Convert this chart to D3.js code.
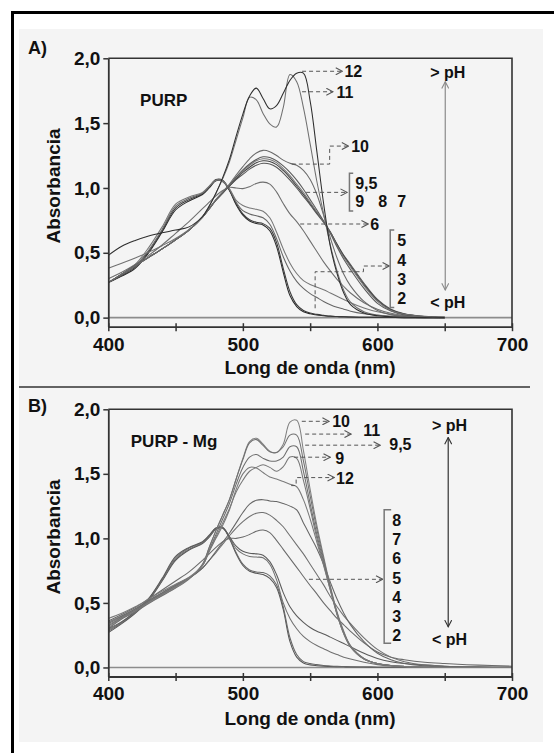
<!DOCTYPE html>
<html><head><meta charset="utf-8">
<script src="https://cdn.jsdelivr.net/npm/d3@7"></script>
<style>
body{margin:0;background:#fff}
svg{display:block}
text{font-family:"Liberation Sans",Arial,sans-serif;font-weight:bold;fill:#111}
</style></head>
<body><svg id="c" width="554" height="753"></svg>
<script>
// ---------- DATA ----------
const wavelengthsA = [400,410,420,430,440,450,460,470,475,480,485,490,495,500,505,510,515,520,525,530,535,540,545,550,555,560,565,570,575,580,590,600,610,620,635,650];
const wavelengthsB = [400,410,420,430,440,450,460,470,475,480,485,490,495,500,505,510,515,520,525,530,535,540,545,550,555,560,565,570,575,580,590,600,610,620,635,650,675,700];
const phLabels = ["2","3","4","5","6","7","8","9","9,5","10","11","12"];

// Panel A: PURP
const purp_pH2  = [0.27,0.32,0.38,0.50,0.66,0.83,0.90,0.95,1.00,1.055,1.05,0.98,0.87,0.79,0.745,0.725,0.715,0.67,0.55,0.35,0.17,0.085,0.045,0.03,0.02,0.015,0.01,0.008,0.006,0.005,0.003,0.002,0.001,0,0,0];
const purp_pH3  = [0.27,0.325,0.39,0.51,0.67,0.845,0.91,0.955,1.01,1.065,1.06,0.985,0.88,0.80,0.755,0.735,0.725,0.69,0.58,0.38,0.20,0.10,0.055,0.035,0.025,0.018,0.012,0.009,0.007,0.005,0.003,0.002,0.001,0,0,0];
const purp_pH4  = [0.27,0.33,0.40,0.52,0.68,0.86,0.92,0.96,1.01,1.06,1.055,0.99,0.89,0.825,0.80,0.785,0.77,0.72,0.61,0.47,0.36,0.28,0.225,0.185,0.155,0.125,0.10,0.08,0.065,0.05,0.03,0.018,0.01,0.005,0.002,0];
const purp_pH5  = [0.27,0.335,0.41,0.54,0.70,0.875,0.93,0.965,1.015,1.06,1.05,0.995,0.905,0.865,0.845,0.835,0.82,0.77,0.66,0.53,0.42,0.34,0.285,0.255,0.235,0.215,0.19,0.165,0.14,0.115,0.075,0.045,0.025,0.012,0.004,0];
const purp_pH6  = [0.30,0.35,0.41,0.48,0.56,0.65,0.74,0.84,0.89,0.94,0.98,1.005,1.0,0.995,1.01,1.035,1.045,1.03,0.97,0.88,0.80,0.74,0.67,0.59,0.51,0.43,0.36,0.295,0.24,0.19,0.115,0.065,0.033,0.015,0.005,0];
const purp_pH7  = [0.27,0.335,0.40,0.465,0.53,0.60,0.675,0.775,0.84,0.91,0.965,1.015,1.065,1.105,1.145,1.175,1.19,1.185,1.16,1.115,1.06,1.0,0.935,0.87,0.80,0.735,0.66,0.565,0.48,0.41,0.265,0.14,0.065,0.03,0.01,0.003];
const purp_pH8  = [0.27,0.335,0.40,0.465,0.53,0.60,0.675,0.775,0.84,0.905,0.96,1.015,1.07,1.12,1.16,1.195,1.21,1.205,1.18,1.135,1.08,1.015,0.95,0.88,0.81,0.74,0.66,0.565,0.475,0.40,0.255,0.135,0.06,0.028,0.009,0.003];
const purp_pH9  = [0.27,0.335,0.40,0.465,0.53,0.60,0.675,0.775,0.84,0.905,0.96,1.02,1.08,1.13,1.175,1.21,1.225,1.22,1.195,1.15,1.095,1.03,0.965,0.89,0.815,0.74,0.655,0.555,0.465,0.39,0.245,0.125,0.055,0.025,0.008,0.002];
const purp_pH95 = [0.27,0.335,0.40,0.465,0.53,0.60,0.675,0.775,0.84,0.905,0.96,1.02,1.085,1.14,1.185,1.22,1.24,1.235,1.21,1.17,1.12,1.06,0.99,0.91,0.83,0.745,0.65,0.545,0.45,0.37,0.225,0.11,0.05,0.02,0.007,0.002];
const purp_pH10 = [0.27,0.335,0.40,0.465,0.53,0.60,0.675,0.775,0.84,0.91,0.97,1.03,1.10,1.165,1.225,1.27,1.29,1.28,1.25,1.215,1.19,1.175,1.135,1.065,0.95,0.79,0.615,0.46,0.335,0.245,0.125,0.055,0.022,0.009,0.003,0];
const purp_pH11 = [0.38,0.42,0.46,0.505,0.555,0.61,0.68,0.78,0.86,0.96,1.07,1.20,1.37,1.54,1.70,1.68,1.575,1.495,1.47,1.62,1.875,1.82,1.62,1.34,1.05,0.80,0.56,0.36,0.21,0.12,0.045,0.02,0.01,0.005,0.002,0];
const purp_pH12 = [0.48,0.55,0.595,0.63,0.655,0.675,0.70,0.78,0.86,0.96,1.08,1.22,1.40,1.57,1.71,1.77,1.69,1.61,1.635,1.73,1.83,1.885,1.885,1.67,1.28,0.88,0.55,0.34,0.19,0.10,0.035,0.015,0.007,0.003,0,0];

// Panel B: PURP - Mg
const mg_pH2  = [0.27,0.34,0.42,0.52,0.67,0.83,0.91,0.96,1.01,1.07,1.08,1.00,0.88,0.79,0.745,0.73,0.72,0.69,0.62,0.45,0.20,0.08,0.035,0.02,0.014,0.01,0.008,0.006,0.005,0.004,0.003,0.002,0.001,0,0,0,0,0];
const mg_pH3  = [0.28,0.345,0.425,0.525,0.675,0.84,0.915,0.965,1.015,1.075,1.085,1.005,0.89,0.80,0.755,0.74,0.735,0.71,0.64,0.47,0.23,0.10,0.045,0.03,0.022,0.016,0.012,0.009,0.007,0.005,0.003,0.002,0.001,0,0,0,0,0];
const mg_pH4  = [0.29,0.35,0.43,0.53,0.68,0.85,0.925,0.97,1.02,1.08,1.085,1.01,0.92,0.88,0.86,0.855,0.85,0.80,0.68,0.50,0.38,0.30,0.24,0.20,0.17,0.145,0.12,0.10,0.08,0.065,0.04,0.022,0.012,0.006,0.002,0,0,0];
const mg_pH5  = [0.30,0.355,0.435,0.535,0.69,0.86,0.93,0.975,1.025,1.08,1.08,1.015,0.94,0.90,0.885,0.88,0.87,0.82,0.72,0.58,0.47,0.40,0.35,0.31,0.28,0.26,0.235,0.21,0.185,0.16,0.11,0.07,0.045,0.03,0.018,0.01,0.005,0.003];
const mg_pH6  = [0.36,0.41,0.465,0.53,0.60,0.67,0.74,0.83,0.88,0.93,0.975,1.0,1.0,1.01,1.03,1.055,1.065,1.045,0.985,0.915,0.845,0.775,0.705,0.635,0.57,0.50,0.44,0.38,0.33,0.28,0.19,0.12,0.08,0.06,0.04,0.03,0.018,0.01];
const mg_pH7  = [0.35,0.40,0.455,0.52,0.58,0.64,0.695,0.77,0.83,0.89,0.955,1.02,1.08,1.13,1.17,1.195,1.20,1.18,1.14,1.09,1.02,0.95,0.88,0.80,0.72,0.64,0.55,0.47,0.40,0.34,0.23,0.14,0.08,0.045,0.02,0.01,0.003,0];
const mg_pH8  = [0.34,0.395,0.45,0.515,0.575,0.635,0.69,0.77,0.83,0.90,0.97,1.04,1.12,1.20,1.265,1.295,1.30,1.29,1.285,1.27,1.25,1.22,1.12,1.02,0.92,0.80,0.66,0.53,0.42,0.33,0.20,0.11,0.06,0.03,0.012,0.005,0,0];
const mg_pH9  = [0.33,0.39,0.445,0.51,0.57,0.63,0.69,0.79,0.90,1.01,1.12,1.23,1.36,1.45,1.52,1.55,1.57,1.55,1.52,1.555,1.63,1.62,1.45,1.23,1.00,0.80,0.60,0.41,0.26,0.16,0.065,0.03,0.015,0.007,0.002,0,0,0];
const mg_pH95 = [0.32,0.385,0.44,0.505,0.565,0.625,0.69,0.79,0.91,1.03,1.15,1.27,1.42,1.55,1.63,1.65,1.62,1.60,1.60,1.63,1.71,1.71,1.52,1.27,1.03,0.82,0.61,0.42,0.27,0.165,0.068,0.03,0.015,0.007,0.002,0,0,0];
const mg_pH10 = [0.31,0.38,0.435,0.50,0.56,0.62,0.69,0.80,0.93,1.06,1.18,1.30,1.46,1.62,1.75,1.775,1.73,1.675,1.665,1.73,1.90,1.915,1.68,1.38,1.10,0.86,0.63,0.43,0.28,0.17,0.07,0.03,0.015,0.008,0.003,0,0,0];
const mg_pH11 = [0.30,0.375,0.43,0.495,0.555,0.615,0.685,0.80,0.93,1.06,1.18,1.30,1.46,1.61,1.74,1.765,1.72,1.67,1.665,1.71,1.80,1.80,1.60,1.33,1.07,0.84,0.62,0.42,0.27,0.165,0.068,0.03,0.015,0.008,0.003,0,0,0];
const mg_pH12 = [0.38,0.42,0.47,0.53,0.59,0.645,0.70,0.79,0.90,1.00,1.10,1.22,1.38,1.50,1.55,1.545,1.51,1.475,1.46,1.44,1.42,1.40,1.30,1.15,0.97,0.79,0.60,0.41,0.26,0.16,0.065,0.03,0.015,0.007,0.002,0,0,0];

const xTickValues = [400,450,500,550,600,650,700];
const xLabelValues = [400,500,600,700];
const yTickValues = [0,0.5,1,1.5,2];

// annotations in data units [wavelength, absorbance]
const annotA = {
  title: {text:"PURP", at:[423.6,1.683]},
  arrows: [
    [[544,1.90],[574,1.90]],
    [[544,1.742],[567,1.742]],
    [[536.4,1.184],[564.5,1.184],[564.5,1.323],[578.5,1.323]],
    [[547,0.966],[577.5,0.966]],
    [[542.6,0.722],[593.1,0.722]],
    [[553.7,0.072],[553.7,0.354],[589.6,0.354],[589.6,0.398],[608.8,0.398]]
  ],
  labels: [
    {t:"12",at:[575.5,1.90]},{t:"11",at:[569.5,1.742]},{t:"10",at:[580.5,1.323]},
    {t:"9,5",at:[583.5,1.035]},{t:"9",at:[583.5,0.894]},{t:"8",at:[600.6,0.894]},{t:"7",at:[614.7,0.894]},
    {t:"6",at:[594.6,0.722]},
    {t:"5",at:[614.7,0.593]},{t:"4",at:[614.7,0.444]},{t:"3",at:[614.7,0.295]},{t:"2",at:[614.7,0.149]}
  ],
  brackets: [
    [[582,1.113],[579.2,1.113],[579.2,0.822],[582,0.822]],
    [[612.5,0.675],[609.5,0.675],[609.5,0.079],[612.5,0.079]]
  ],
  phTop:{t:"> pH",at:[639.2,1.896]}, phBot:{t:"< pH",at:[639.2,0.118]},
  phArrow:[[650.4,1.819],[650.4,0.213]], phColor:"#8a8a8a"
};
const annotB = {
  title: {text:"PURP - Mg", at:[416.7,1.757]},
  arrows: [
    [[543.8,1.907],[564.1,1.907]],
    [[546.3,1.808],[580.5,1.808]],
    [[546.3,1.722],[602.1,1.722]],
    [[538.1,1.629],[564.9,1.629]],
    [[535.9,1.409],[539.6,1.409],[539.6,1.471],[567.9,1.471]],
    [[549.1,0.683],[603.9,0.683]]
  ],
  labels: [
    {t:"10",at:[566.4,1.906]},{t:"11",at:[589.4,1.835]},{t:"9,5",at:[608.8,1.731]},
    {t:"9",at:[568.6,1.623]},{t:"12",at:[569.3,1.466]},
    {t:"8",at:[611,1.139]},{t:"7",at:[611,0.990]},{t:"6",at:[611,0.843]},{t:"5",at:[611,0.693]},
    {t:"4",at:[611,0.547]},{t:"3",at:[611,0.398]},{t:"2",at:[611,0.251]}
  ],
  brackets: [
    [[610.2,1.222],[605,1.222],[605,0.187],[610.2,0.187]]
  ],
  phTop:{t:"> pH",at:[640.5,1.873]}, phBot:{t:"< pH",at:[640.5,0.218]},
  phArrow:[[652.6,1.782],[652.6,0.315]], phColor:"#333"
};

// ---------- STYLE ----------
const colorsA = ["#2a2a2a","#3a3a3a","#666","#777","#6e6e6e","#555","#444","#777","#5a5a5a","#6a6a6a","#707070","#2e2e2e"];
const colorsB = ["#555","#666","#707070","#5a5a5a","#6a6a6a","#707070","#666","#777","#6e6e6e","#808080","#707070","#7a7a7a"];

const seriesA = [purp_pH2,purp_pH3,purp_pH4,purp_pH5,purp_pH6,purp_pH7,purp_pH8,purp_pH9,purp_pH95,purp_pH10,purp_pH11,purp_pH12]
  .map((v,i)=>({ph:phLabels[i], values:v, color:colorsA[i]}));
const seriesB = [mg_pH2,mg_pH3,mg_pH4,mg_pH5,mg_pH6,mg_pH7,mg_pH8,mg_pH9,mg_pH95,mg_pH10,mg_pH11,mg_pH12]
  .map((v,i)=>({ph:phLabels[i], values:v, color:colorsB[i]}));

const fmt = d3.formatLocale({decimal:",",thousands:".",grouping:[3],currency:["",""]}).format(".1f");
const svg = d3.select("#c");

// defs
const defs = svg.append("defs");
function chevron(id,color){
  defs.append("marker").attr("id",id).attr("viewBox","0 0 8 8").attr("refX",7.2).attr("refY",4)
    .attr("markerWidth",8).attr("markerHeight",8).attr("markerUnits","userSpaceOnUse")
    .attr("orient","auto-start-reverse")
    .append("path").attr("d","M0.5,0.5 L7.2,4 L0.5,7.5").attr("fill","none").attr("stroke",color).attr("stroke-width",1.1);
}
chevron("ch","#555"); chevron("chA","#8a8a8a"); chevron("chB","#333");

// background panel and outer frame
svg.append("rect").attr("x",19).attr("y",29).attr("width",524).attr("height",713).attr("fill","#f4f4f4");
svg.append("path").attr("d","M12.5,753 V12.5 H554").attr("fill","none").attr("stroke","#000").attr("stroke-width",3);
svg.append("line").attr("x1",19).attr("x2",530).attr("y1",387).attr("y2",387).attr("stroke","#333").attr("stroke-width",1.6);

function panel(cfg){
  const x = d3.scaleLinear().domain([400,700]).range([108.3,512]);
  const y = d3.scaleLinear().domain([-0.07,2]).range([cfg.bottom,cfg.top]);
  const g = svg.append("g");
  const cid = "clip"+cfg.id;
  defs.append("clipPath").attr("id",cid).append("rect")
    .attr("x",x(400)).attr("y",y(2)-2).attr("width",x(700)-x(400)).attr("height",y(-0.07)-y(2)+2);

  g.append("line").attr("x1",x(400)).attr("x2",x(700)).attr("y1",y(0)).attr("y2",y(0))
    .attr("stroke","#8c8c8c").attr("stroke-width",1.6);

  const line = d3.line().x((d,i)=>x(cfg.wl[i])).y(d=>y(d)).curve(d3.curveCatmullRom.alpha(0.5));
  g.append("g").attr("clip-path",`url(#${cid})`).selectAll("path").data(cfg.series).join("path")
    .attr("d",d=>line(d.values)).attr("fill","none").attr("stroke",d=>d.color).attr("stroke-width",1.05);

  g.append("path").attr("d",`M${x(400)},${y(2)} H${x(700)} V${y(-0.07)}`)
    .attr("fill","none").attr("stroke","#333").attr("stroke-width",1.6);

  const xa = g.append("g").attr("transform",`translate(0,${y(-0.07)})`)
    .call(d3.axisBottom(x).tickValues(xTickValues).tickFormat(d=>xLabelValues.includes(d)?String(d):"")
      .tickSize(4.5).tickSizeOuter(0).tickPadding(6));
  xa.select(".domain").attr("stroke","#333").attr("stroke-width",1.8);
  xa.selectAll(".tick line").attr("y1",-3.5).attr("stroke","#333").attr("stroke-width",1.5);
  xa.selectAll(".tick text").style("font-size","19px").attr("fill","#111");

  const ya = g.append("g").attr("transform",`translate(${x(400)},0)`)
    .call(d3.axisLeft(y).tickValues(yTickValues).tickFormat(fmt).tickSize(5).tickSizeOuter(0).tickPadding(3));
  ya.select(".domain").attr("stroke","#333").attr("stroke-width",1.8);
  ya.selectAll(".tick line").attr("stroke","#333").attr("stroke-width",1.5);
  ya.selectAll(".tick text").style("font-size","19px").attr("fill","#111");

  g.append("text").attr("transform",`translate(53,${cfg.yTitleY}) rotate(-90)`).attr("text-anchor","middle")
    .attr("dy","0.35em").style("font-size","19px").text("Absorbancia");
  g.append("text").attr("x",310).attr("y",cfg.xTitleBase).attr("text-anchor","middle")
    .style("font-size","19px").text("Long de onda (nm)");
  g.append("text").attr("x",28).attr("y",cfg.letterBase).style("font-size","18px").text(cfg.letter);

  const a = cfg.annot;
  g.append("text").attr("x",x(a.title.at[0])).attr("y",y(a.title.at[1])).attr("dy","0.36em")
    .style("font-size","17px").text(a.title.text);

  const pl = d3.line().x(d=>x(d[0])).y(d=>y(d[1]));
  g.selectAll("path.arr").data(a.arrows).join("path").attr("class","arr")
    .attr("d",pl).attr("fill","none").attr("stroke","#555").attr("stroke-width",1)
    .attr("stroke-dasharray","4,3").attr("marker-end","url(#ch)");
  g.selectAll("path.br").data(a.brackets).join("path").attr("class","br")
    .attr("d",pl).attr("fill","none").attr("stroke","#777").attr("stroke-width",1.5);
  g.selectAll("text.lab").data(a.labels).join("text").attr("class","lab")
    .attr("x",d=>x(d.at[0])).attr("y",d=>y(d.at[1])).attr("dy","0.36em").style("font-size","16px").text(d=>d.t);

  [a.phTop,a.phBot].forEach(d=>g.append("text").attr("x",x(d.at[0])).attr("y",y(d.at[1])).attr("dy","0.36em")
    .style("font-size","16px").text(d.t));
  g.append("path").attr("d",pl(a.phArrow)).attr("fill","none").attr("stroke",a.phColor).attr("stroke-width",1.2)
    .attr("marker-start",`url(#${cfg.id==="A"?"chA":"chB"})`).attr("marker-end",`url(#${cfg.id==="A"?"chA":"chB"})`);
}

panel({id:"A", top:58.3, bottom:326.7, wl:wavelengthsA, series:seriesA, annot:annotA,
  yTitleY:186, xTitleBase:374, letterBase:54, letter:"A)"});
panel({id:"B", top:409.3, bottom:676.5, wl:wavelengthsB, series:seriesB, annot:annotB,
  yTitleY:537, xTitleBase:725, letterBase:412, letter:"B)"});
</script>
</body></html>
